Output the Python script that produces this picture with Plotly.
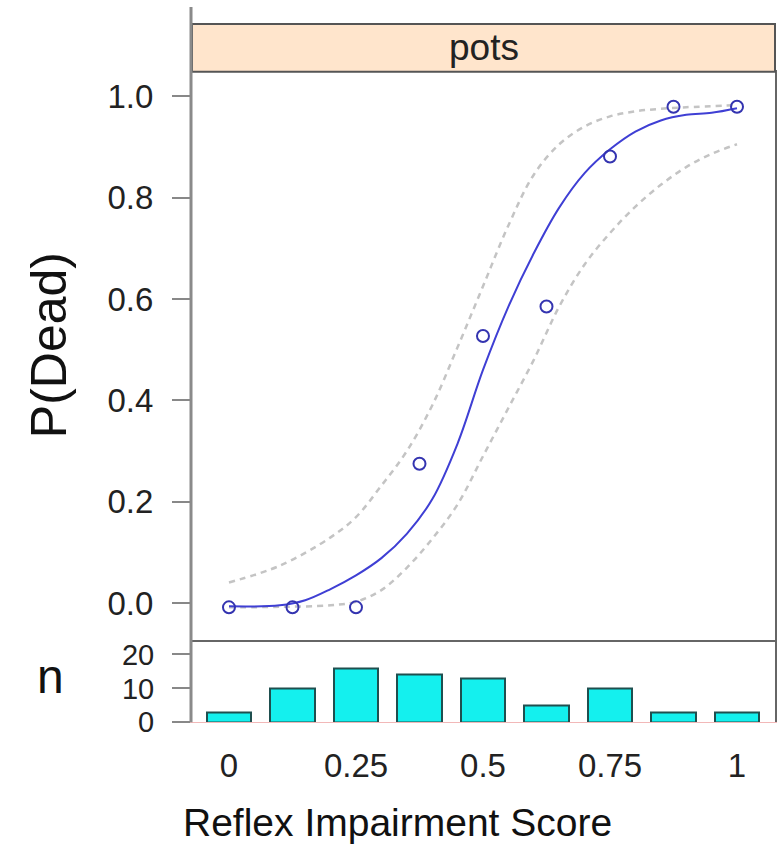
import plotly.graph_objects as go

# ---------------- data ----------------
score = [0, 0.125, 0.25, 0.375, 0.5, 0.625, 0.75, 0.875, 1]
p_obs = [-0.008, -0.008, -0.008, 0.275, 0.527, 0.585, 0.881, 0.979, 0.979]
n_count = [3, 10, 16, 14, 13, 5, 10, 3, 3]

fit_x = [0, 0.1, 0.15, 0.2, 0.25, 0.3, 0.35, 0.4, 0.45, 0.5, 0.55, 0.6, 0.65, 0.7,
         0.75, 0.8, 0.85, 0.9, 0.95, 1.0]
fit_y = [-0.006, -0.004, 0.006, 0.028, 0.055, 0.089, 0.137, 0.205, 0.315, 0.46, 0.585, 0.69,
         0.78, 0.848, 0.895, 0.93, 0.952, 0.963, 0.967, 0.976]

upper_x = [0, 0.1, 0.2, 0.25, 0.3, 0.35, 0.4, 0.45, 0.5, 0.55, 0.6, 0.65, 0.7, 0.75,
           0.8, 0.85, 0.9, 1.0]
upper_y = [0.041, 0.074, 0.13, 0.17, 0.232, 0.3, 0.39, 0.505, 0.625, 0.745, 0.845, 0.905,
           0.94, 0.96, 0.97, 0.975, 0.978, 0.982]

lower_x = [0, 0.1, 0.2, 0.25, 0.3, 0.35, 0.4, 0.45, 0.5, 0.55, 0.6, 0.65, 0.7, 0.75,
           0.8, 0.85, 0.9, 0.95, 1.0]
lower_y = [-0.008, -0.007, -0.004, 0.003, 0.026, 0.07, 0.127, 0.195, 0.29, 0.385, 0.48, 0.585,
           0.668, 0.73, 0.782, 0.825, 0.86, 0.886, 0.905]

x_tickvals = [0, 0.25, 0.5, 0.75, 1]
x_ticktext = ["0", "0.25", "0.5", "0.75", "1"]
y_tickvals = [0.0, 0.2, 0.4, 0.6, 0.8, 1.0]
y_ticktext = ["0.0", "0.2", "0.4", "0.6", "0.8", "1.0"]
n_tickvals = [0, 10, 20]
n_ticktext = ["0", "10", "20"]

panel_label = "pots"
x_title = "Reflex Impairment Score"
y_title = "P(Dead)"
n_title = "n"

# ---------------- layout helpers ----------------
W, H = 777, 868          # rendered page is captured into a 777x852 picture
REF_W, REF_H = 777, 852
FONT = "Liberation Sans, Arial, sans-serif"


def fx(p):
    """picture x pixel -> paper fraction"""
    return p / REF_W


def fy(p):
    """picture y pixel -> paper fraction"""
    return 1 - p / REF_H


L, R = 192, 775
TOP_MAIN, BOT_MAIN = 70, 640
BOT_BAR = 722

fig = go.Figure()

band_line = dict(color="#c4c4c4", width=2.5, dash="6px,5px")
fig.add_trace(go.Scatter(x=upper_x, y=upper_y, mode="lines", line_shape="spline",
                         line=band_line, xaxis="x", yaxis="y",
                         showlegend=False, hoverinfo="skip"))
fig.add_trace(go.Scatter(x=lower_x, y=lower_y, mode="lines", line_shape="spline",
                         line=band_line, xaxis="x", yaxis="y",
                         showlegend=False, hoverinfo="skip"))
fig.add_trace(go.Scatter(x=fit_x, y=fit_y, mode="lines", line_shape="spline",
                         line=dict(color="#3f3fd4", width=2),
                         xaxis="x", yaxis="y", showlegend=False))
fig.add_trace(go.Scatter(x=score, y=p_obs, mode="markers",
                         marker=dict(symbol="circle-open", size=12,
                                     color="#3434b0", line=dict(width=2, color="#3434b0")),
                         xaxis="x", yaxis="y", showlegend=False))
fig.add_trace(go.Bar(x=score, y=n_count, width=0.087,
                     marker=dict(color="#14f0ee", line=dict(color="#1f4f4f", width=2)),
                     xaxis="x2", yaxis="y2", showlegend=False))

tickfont = dict(family=FONT, size=33, color="#222222")
ntickfont = dict(family=FONT, size=29, color="#222222")

fig.update_layout(
    width=W, height=H,
    margin=dict(l=0, r=0, t=0, b=0),
    paper_bgcolor="white", plot_bgcolor="white",
    xaxis=dict(domain=[fx(L), fx(R)], range=[-0.0728, 1.0748], anchor="y",
               showticklabels=False, ticks="", showgrid=False, zeroline=False,
               showline=True, mirror=True, linecolor="#666666", linewidth=2),
    yaxis=dict(domain=[fy(BOT_MAIN), fy(TOP_MAIN)], range=[-0.0734, 1.0478], anchor="x",
               tickvals=y_tickvals, ticktext=y_ticktext, tickfont=tickfont,
               ticks="outside", ticklen=18, tickwidth=2, tickcolor="#888888",
               ticklabelstandoff=12,
               showgrid=False, zeroline=False,
               showline=True, mirror=True, linecolor="#666666", linewidth=2),
    xaxis2=dict(domain=[fx(L), fx(R)], range=[-0.0728, 1.0748], anchor="y2",
                tickvals=x_tickvals, ticktext=x_ticktext, tickfont=tickfont,
                ticks="", ticklabelstandoff=14,
                showgrid=False, zeroline=False,
                showline=True, mirror=False, linecolor="#f2b8b8", linewidth=1),
    yaxis2=dict(domain=[fy(BOT_BAR), fy(BOT_MAIN)], range=[0, 24.1], anchor="x2",
                tickvals=n_tickvals, ticktext=n_ticktext, tickfont=ntickfont,
                ticks="outside", ticklen=18, tickwidth=2, tickcolor="#888888",
                ticklabelstandoff=12,
                showgrid=False, zeroline=False,
                showline=True, mirror=True, linecolor="#666666", linewidth=2),
    bargap=0,
)

# strip
fig.add_shape(type="rect", xref="paper", yref="paper",
              x0=fx(L), x1=fx(R), y0=fy(70), y1=fy(22),
              fillcolor="#ffe5cc", line=dict(color="#555555", width=2))
# long left axis line
fig.add_shape(type="line", xref="paper", yref="paper",
              x0=fx(191), x1=fx(191), y0=fy(5), y1=fy(BOT_BAR),
              line=dict(color="#8a8a8a", width=3))

fig.add_annotation(text=panel_label, xref="paper", yref="paper",
                   x=fx((L + R) / 2), y=fy(46), showarrow=False,
                   xanchor="center", yanchor="middle",
                   font=dict(family=FONT, size=37, color="#222222"))
fig.add_annotation(text=y_title, xref="paper", yref="paper",
                   x=fx(49), y=fy(344), showarrow=False, textangle=-90,
                   xanchor="center", yanchor="middle",
                   font=dict(family=FONT, size=50, color="#111111"))
fig.add_annotation(text=n_title, xref="paper", yref="paper",
                   x=fx(50), y=fy(676), showarrow=False,
                   xanchor="center", yanchor="middle",
                   font=dict(family=FONT, size=48, color="#111111"))
fig.add_annotation(text=x_title, xref="paper", yref="paper",
                   x=fx(397), y=fy(822), showarrow=False,
                   xanchor="center", yanchor="middle",
                   font=dict(family=FONT, size=39, color="#111111"))

fig.write_html("out.html", config={"displayModeBar": False},
               post_script="document.body.style.margin='0';")
